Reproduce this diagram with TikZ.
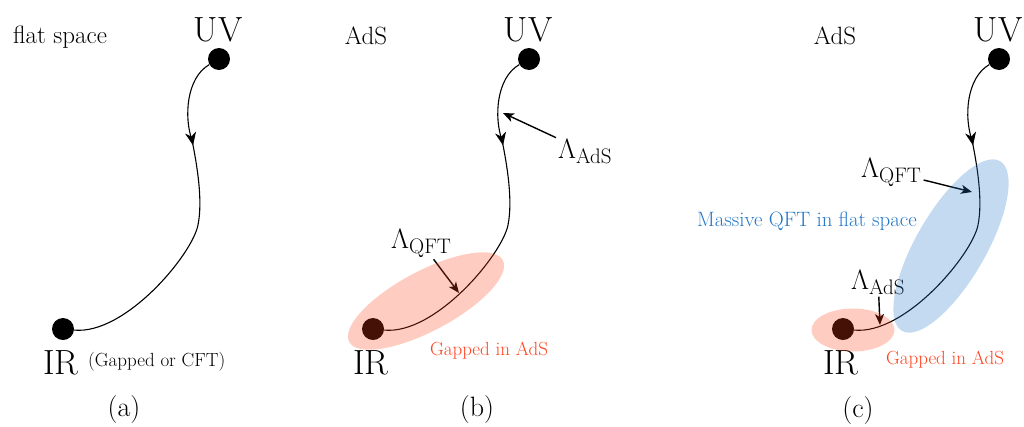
\documentclass[tikz,border=0pt]{standalone}
\usepackage{fix-cm}
\usetikzlibrary{arrows.meta,decorations.markings}
\definecolor{gapred}{RGB}{255,66,29}
\definecolor{qftblue}{RGB}{33,118,199}
\newcommand{\subtx}[1]{\mbox{\fontsize{21}{22}\selectfont #1}}
\tikzset{
  dot/.style={circle,fill=black,inner sep=0pt,minimum size=22pt},
  bigtxt/.style={inner sep=1pt,font=\fontsize{35}{38}\selectfont},
  midtxt/.style={inner sep=1pt,font=\fontsize{25}{28}\selectfont},
  captxt/.style={inner sep=1pt,font=\fontsize{28}{30}\selectfont},
  lamtxt/.style={inner sep=2pt,font=\fontsize{28}{30}\selectfont},
  smalltxt/.style={inner sep=1pt,font=\fontsize{19}{21}\selectfont},
  qfttxt/.style={inner sep=1pt,font=\fontsize{20.8}{23}\selectfont},
  flow/.style={line width=1.1pt,postaction={decorate},
    decoration={markings,mark=at position 0.26 with {\arrow{Stealth[length=13pt,width=11pt,inset=4pt]}}}},
  lamarrow/.style={line width=1.4pt,-{Stealth[length=11pt,width=9pt,inset=3pt]}},
  redfill/.style={fill=gapred,fill opacity=0.27},
  bluefill/.style={fill=qftblue,fill opacity=0.27}
}
\begin{document}
\begin{tikzpicture}[x=1pt,y=-1pt]
\useasboundingbox (0,0) rectangle (1024,426);

% ---------- (a) ----------
\node[dot] (uvA) at (219,59) {};
\node[bigtxt,anchor=base] (uvAt) at (218,41) {UV};
\node[dot] (irA) at (63,329) {};
\node[bigtxt,anchor=base] (irAt) at (61,374) {IR};
\node[smalltxt,anchor=base west] (gcA) at (87,366) {(Gapped or CFT)};
\node[midtxt,anchor=base] (flatA) at (60,43) {flat space};
\node[captxt] (capA) at (124,410) {(a)};
\draw[flow] (uvA) .. controls (186,78) and (184,118) .. (192,140)
  .. controls (197,165) and (203,200) .. (198,225)
  .. controls (192,255) and (125,335) .. (irA);

% ---------- (b) ----------
\node[dot] (uvB) at (529,59) {};
\node[bigtxt,anchor=base] (uvBt) at (528,41) {UV};
\node[dot] (irB) at (373,329) {};
\node[bigtxt,anchor=base] (irBt) at (371,374) {IR};
\node[midtxt,anchor=base] (adsB) at (366,44) {AdS};
\node[captxt] (capB) at (477,410) {(b)};
\draw[flow] (uvB) .. controls (496,78) and (494,118) .. (502,140)
  .. controls (507,165) and (513,200) .. (508,225)
  .. controls (502,255) and (435,335) .. (irB);
\node[lamtxt,anchor=base west] (lamAdsB) at (556,158) {$\Lambda_{\subtx{AdS}}$};
\coordinate (tipAdsB) at (503,113);
\draw[lamarrow] (lamAdsB) -- (tipAdsB);
\node[lamtxt,anchor=base west] (lamQftB) at (389,248) {$\Lambda_{\subtx{QFT}}$};
\coordinate (tipQftB) at (459,293);
\draw[lamarrow] (lamQftB) -- (tipQftB);
\fill[redfill,rotate around={28:(426,301)}] (426,301) ellipse [x radius=87,y radius=30];
\node[smalltxt,text=gapred] (gapB) at (489,351) {Gapped in AdS};

% ---------- (c) ----------
\node[dot] (uvC) at (999,59) {};
\node[bigtxt,anchor=base] (uvCt) at (998,41) {UV};
\node[dot] (irC) at (843,329) {};
\node[bigtxt,anchor=base] (irCt) at (841,374) {IR};
\node[midtxt,anchor=base] (adsC) at (835,44) {AdS};
\node[captxt] (capC) at (858,411) {(c)};
\draw[flow] (uvC) .. controls (966,78) and (964,118) .. (972,140)
  .. controls (977,165) and (983,200) .. (978,225)
  .. controls (972,255) and (905,335) .. (irC);
\node[lamtxt,anchor=base west] (lamQftC) at (859,177) {$\Lambda_{\subtx{QFT}}$};
\coordinate (tipQftC) at (972,192);
\draw[lamarrow] (lamQftC) -- (tipQftC);
\node[lamtxt,anchor=base west] (lamAdsC) at (849,289) {$\Lambda_{\subtx{AdS}}$};
\coordinate (tipAdsC) at (880,325);
\draw[lamarrow] (lamAdsC) -- (tipAdsC);
\fill[bluefill,rotate around={60:(951,246)}] (951,246) ellipse [x radius=98,y radius=35];
\fill[redfill] (853,330) ellipse [x radius=41.5,y radius=21.5];
\node[qfttxt,text=qftblue] (qftC) at (807,221) {Massive QFT in flat space};
\node[smalltxt,text=gapred] (gapC) at (945,360) {Gapped in AdS};
\end{tikzpicture}
\end{document}
